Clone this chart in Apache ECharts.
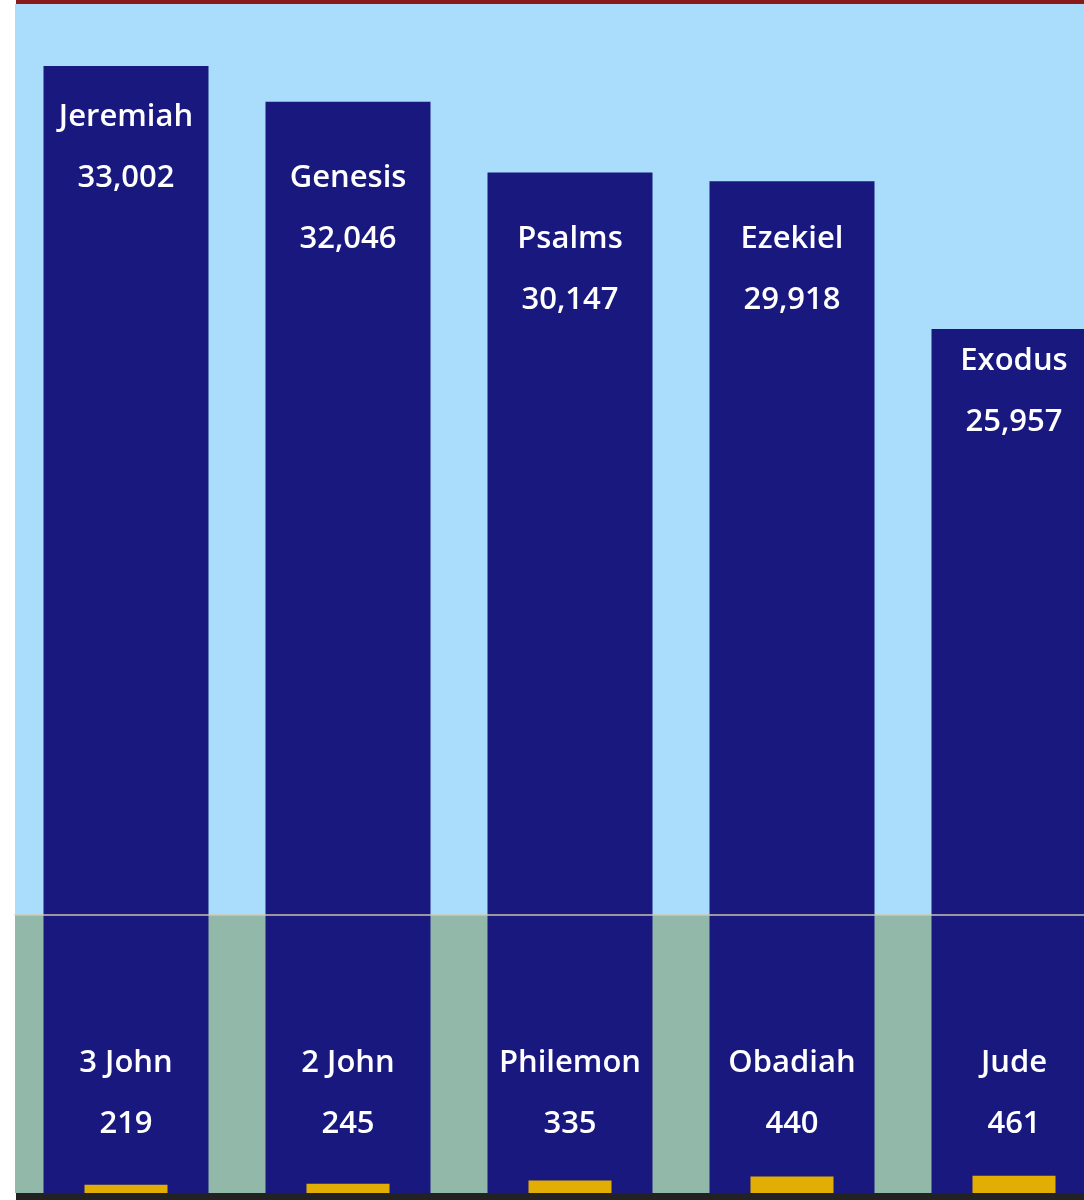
<!DOCTYPE html>
<html>
<head>
<meta charset="utf-8">
<script src="https://cdn.jsdelivr.net/npm/echarts@6/dist/echarts.min.js"></script>
<style>
  html, body { margin: 0; padding: 0; background: #ffffff; }
  #chart { width: 1084px; height: 1200px; }
</style>
</head>
<body>
<div id="chart"></div>
<script>
// 最长的书（字数）
const longBooks = ['Jeremiah', 'Genesis', 'Psalms', 'Ezekiel', 'Exodus'];
const longCounts = [33002, 32046, 30147, 29918, 25957];
// 最短的书
const shortBooks = ['3 John', '2 John', 'Philemon', 'Obadiah', 'Jude'];
const shortCounts = [219, 245, 335, 440, 461];

const fmt = v => v.toLocaleString('en-US');
const font = '"Open Sans", "Noto Sans", sans-serif';
const textStyle = { color: '#ffffff', fontSize: 31, fontWeight: 600, fontFamily: font, lineHeight: 61 };

// 标签按 61px 的行对齐（原图文字排成表格行）
const ROW_FIRST = 117, ROW_STEP = 61, ROW_GAP = 20;

const chart = echarts.init(document.getElementById('chart'));

const labelFmt = p => '{n|' + longBooks[p.dataIndex] + '}\n{v|' + fmt(p.value) + '}';

chart.setOption({
  animation: false,
  backgroundColor: '#ffffff',
  grid: [
    // 上半部分：浅蓝背景（右侧超出画布，最后一根柱被裁掉）
    { left: 15, width: 1110, top: 4, bottom: 7, show: true, backgroundColor: '#aadcfc', borderWidth: 0,
      outerBoundsMode: 'none', containLabel: false },
    // 下半部分：灰绿背景
    { left: 15, width: 1110, top: 915, bottom: 7, show: true, backgroundColor: '#92b8aa', borderWidth: 0,
      outerBoundsMode: 'none', containLabel: false }
  ],
  xAxis: [
    { type: 'category', gridIndex: 0, data: longBooks, show: false },
    {
      type: 'category', gridIndex: 1, data: shortBooks, position: 'bottom',
      axisLine: { show: false }, axisTick: { show: false },
      axisLabel: {
        inside: true, margin: 38, interval: 0,
        formatter: (name, i) => '{n|' + name + '}\n{v|' + fmt(shortCounts[i]) + '}',
        rich: { n: textStyle, v: textStyle }
      },
      z: 5
    },
    // 分隔线
    {
      type: 'category', gridIndex: 1, data: shortBooks, position: 'top',
      axisLine: { show: true, lineStyle: { color: 'rgba(205,200,175,0.95)', width: 1.5 } },
      axisTick: { show: false }, axisLabel: { show: false }, z: 5
    }
  ],
  yAxis: [
    { type: 'value', gridIndex: 0, min: 2813, max: 34664, show: false, splitLine: { show: false } },
    { type: 'value', gridIndex: 1, min: 0, max: 7450, show: false, splitLine: { show: false } }
  ],
  series: [
    {
      type: 'bar', xAxisIndex: 0, yAxisIndex: 0, data: longCounts,
      barWidth: 165, clip: true,
      itemStyle: { color: '#18187f' },
      label: {
        show: true, position: 'insideTop', distance: 20,
        formatter: labelFmt,
        rich: { n: textStyle, v: textStyle }
      }
    },
    {
      type: 'bar', xAxisIndex: 1, yAxisIndex: 1, data: shortCounts,
      barWidth: 83, z: 3,
      itemStyle: { color: '#e3ae04' }
    }
  ],
  graphic: [
    { type: 'rect', left: 16, top: 0, shape: { width: 1068, height: 4 }, style: { fill: '#8a1a1a' }, z: 10 },
    { type: 'rect', left: 16, top: 1193, shape: { width: 1068, height: 7 }, style: { fill: '#222222' }, z: 10 }
  ]
});

// 根据柱顶像素位置把标签放到下一行
const snapped = longCounts.map((v, i) => {
  const top = chart.convertToPixel({ gridIndex: 0 }, [i, v])[1];
  let row = ROW_FIRST;
  while (row - top < ROW_GAP) row += ROW_STEP;
  return {
    value: v,
    label: { distance: row - top - ROW_STEP / 2 }
  };
});
chart.setOption({ series: [{ data: snapped }] });
</script>
</body>
</html>
